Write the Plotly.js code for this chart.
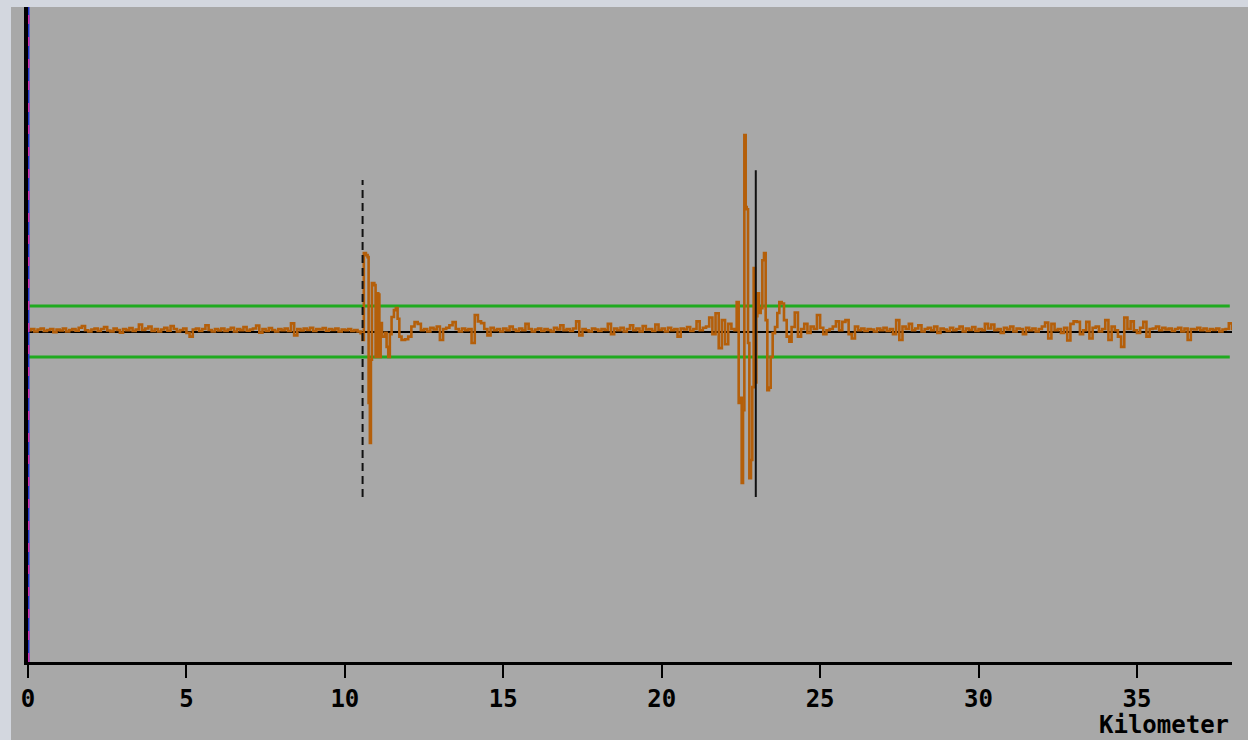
<!DOCTYPE html>
<html>
<head>
<meta charset="utf-8">
<script src="https://cdn.plot.ly/plotly-3.0.1.min.js"></script>
<style>html,body{margin:0;padding:0;background:#a8a8a8;}#chart{width:1248px;height:740px;}</style>
</head>
<body>
<div id="chart"></div>
<script>
// Sampling grid for the quiet parts of the trace (km)
const segAStart = 0.0, segBStart = 11.9, segCStart = 24.1, gridStep = 0.1;

// Quiet trace 0.0 .. 10.4 km
const segAAmp = [
  0.05,0.1,0.0,0.08,0.12,0.02,0.06,0.1,-0.02,0.08,
  0.04,0.12,0.0,0.06,0.1,0.03,0.15,0.22,0.05,0.0,
  0.08,0.12,0.02,0.1,0.18,0.04,0.0,0.12,0.06,-0.04,
  0.1,0.05,0.14,0.02,0.08,0.28,0.06,0.12,0.2,0.02,
  0.1,0.0,0.08,0.15,0.03,0.22,0.1,0.0,0.06,0.12,
  -0.05,-0.2,0.08,0.12,0.02,0.1,0.25,0.06,0.0,0.1,
  0.04,0.12,0.02,0.08,0.15,0.0,0.1,0.05,0.18,0.03,
  0.08,0.12,0.24,-0.04,0.1,0.02,0.14,0.06,0.0,0.1,
  0.05,0.12,0.02,0.32,-0.15,0.1,0.04,0.12,0.06,0.15,
  0.02,0.1,0.08,0.14,0.03,0.1,0.06,0.12,0.0,0.08,
  0.05,0.1,0.02,0.06,0.0
];

// First reflection near 10.5 km
const event1Km = [10.497,10.56,10.60,10.665,10.718,10.75,10.79,10.823,10.855,10.93,10.97,11.013,11.055,11.09,11.13,11.17,11.265,11.318,11.37,11.42,11.475,11.55,11.61,11.665,11.72,11.79];
const event1Amp = [-0.06,-0.33,3.08,3.0,2.92,-2.8,-4.37,-1.1,1.9,1.82,-1.0,1.5,1.45,-1.0,0.33,-0.2,-0.05,-0.6,-1.0,-0.1,0.57,0.84,0.92,0.5,-0.2,-0.33];

// Quiet trace 11.9 .. 22.3 km
const segBAmp = [
  -0.3,-0.2,0.2,0.37,0.3,0.05,0.1,0.0,0.15,0.08,0.2,
  -0.33,0.1,0.15,0.25,0.37,0.1,0.0,0.12,0.05,0.1,
  -0.45,0.65,0.4,0.33,0.1,-0.15,0.15,0.05,0.1,0.0,
  0.12,0.05,0.2,0.08,0.02,0.12,0.05,0.3,0.1,0.0,
  0.08,0.12,0.02,0.1,0.06,0.0,0.15,0.08,0.25,0.05,
  0.1,0.02,0.12,0.4,-0.15,0.1,0.05,0.0,0.12,0.08,
  0.02,0.1,0.06,0.3,-0.1,0.12,0.05,0.15,0.0,0.1,
  0.25,0.05,0.12,0.0,0.22,0.08,0.1,0.02,0.28,0.06,
  0.12,0.0,0.15,0.05,0.1,-0.2,0.12,0.08,0.18,0.02,
  0.1,0.4,0.05,0.15,0.2,0.55,-0.1,0.72,-0.65,0.45,
  -0.5,0.3,0.1,0.05
];

// Main reflection near 22.6 km
const event2Km = [22.367,22.43,22.483,22.525,22.567,22.609,22.651,22.683,22.725,22.767,22.819,22.861,22.903,22.946,22.988,23.019,23.072,23.124,23.177,23.23,23.282,23.335,23.387,23.44,23.503,23.577,23.65,23.713,23.787,23.86,23.945,24.03];
const event2Amp = [1.16,-2.8,-2.6,-5.94,-3.08,7.71,4.88,4.8,-0.45,-5.75,-5.04,-2.18,2.49,-2.0,0.6,1.5,0.73,0.92,2.8,3.08,0.45,-2.3,-2.2,-1.0,-0.06,0.18,0.73,1.16,1.1,0.45,-0.2,-0.4];

// Quiet trace 24.1 .. 38.0 km
const segCAmp = [
  0.18,0.75,-0.2,0.1,0.3,-0.05,0.2,0.1,0.65,0.15,-0.1,0.05,
  0.1,0.2,0.4,0.05,0.38,0.45,-0.1,-0.27,0.2,0.05,
  0.12,0.02,0.1,0.08,0.0,0.12,0.05,0.15,0.02,0.1,
  -0.1,0.45,-0.33,0.2,0.1,0.3,0.05,0.12,0.25,0.0,
  0.1,0.15,0.05,0.2,-0.05,0.12,0.08,0.02,0.15,0.05,
  0.1,0.2,0.0,0.12,0.06,0.18,0.02,0.1,0.05,0.3,
  0.12,0.28,0.05,0.1,-0.05,0.15,0.08,0.2,0.0,0.12,
  0.1,-0.1,0.15,0.05,0.12,0.0,0.1,0.2,0.35,-0.27,
  0.3,0.05,0.1,-0.05,0.15,-0.35,0.3,0.4,0.38,-0.1,
  0.05,0.38,-0.27,0.15,0.2,0.0,0.1,0.45,-0.33,0.2,
  0.05,-0.2,-0.6,0.55,0.1,0.4,0.05,-0.05,0.15,0.38,
  -0.2,0.1,0.12,0.2,0.05,0.15,0.08,0.12,0.02,0.1,
  0.15,0.0,0.12,-0.33,0.1,0.08,0.15,0.05,0.12,0.02,
  0.1,0.06,0.12,0.0,0.08,0.1,0.32,0.05
];

const tickKm = [0,5,10,15,20,25,30,35];
const tickText = ['0','5','10','15','20','25','30','35'];
const axisTitle = 'Kilometer';
const thresholdLevel = 1.0;
const marker1Km = 10.56, marker2Km = 22.97;

function grid(start, vals){ return vals.map((v,i)=>Math.round((start + i*gridStep)*1000)/1000); }

const km = [].concat(grid(segAStart, segAAmp), event1Km, grid(segBStart, segBAmp), event2Km, grid(segCStart, segCAmp));
const amp = [].concat(segAAmp, event1Amp, segBAmp, event2Amp, segCAmp);

const plotL = 28, plotR = 16, plotT = 7, plotB = 78, W = 1248, H = 740;
const pw = W - plotL - plotR, ph = H - plotT - plotB;
const px = p => (p - plotL) / pw;
const py = p => (H - plotB - p) / ph;

const trace = {
  x: km, y: amp, type: 'scatter', mode: 'lines',
  line: {color: '#b45f0a', width: 2.6, shape: 'hv'},
  hoverinfo: 'skip'
};

const layout = {
  width: W, height: H,
  margin: {l: plotL, r: plotR, t: plotT, b: plotB, pad: 0},
  paper_bgcolor: '#a8a8a8',
  plot_bgcolor: 'rgba(0,0,0,0)',
  showlegend: false,
  xaxis: {
    range: [0, 38], tickmode: 'array', tickvals: tickKm, ticktext: tickText,
    ticks: 'outside', ticklen: 13, tickwidth: 2, tickcolor: '#000',
    showline: true, linecolor: '#000', linewidth: 3,
    showgrid: false, zeroline: false, fixedrange: true,
    tickfont: {family: 'DejaVu Sans Mono', size: 24, color: '#000', weight: 'bold'}
  },
  yaxis: {
    range: [-12.96, 12.73], showline: true, linecolor: '#000', linewidth: 4,
    showticklabels: false, ticks: '', showgrid: false, zeroline: false, fixedrange: true
  },
  shapes: [
    {type:'line', xref:'x', yref:'y', x0:0, x1:37.93, y0:thresholdLevel, y1:thresholdLevel, line:{color:'#1faa1f', width:3}, layer:'below'},
    {type:'line', xref:'x', yref:'y', x0:0, x1:37.93, y0:-thresholdLevel, y1:-thresholdLevel, line:{color:'#1faa1f', width:3}, layer:'below'},
    {type:'line', xref:'x', yref:'y', x0:0, x1:38, y0:-0.02, y1:-0.02, line:{color:'#000', width:2}, layer:'below'},
    {type:'line', xref:'x', yref:'y', x0:marker1Km, x1:marker1Km, y0:-6.49, y1:5.94, line:{color:'#111', width:2, dash:'8px,5px'}},
    {type:'line', xref:'x', yref:'y', x0:marker2Km, x1:marker2Km, y0:-6.49, y1:6.33, line:{color:'#111', width:2}},
    {type:'line', xref:'x', yref:'paper', x0:0, x1:0, y0:0, y1:1, line:{color:'#2233cc', width:3}},
    {type:'line', xref:'x', yref:'paper', x0:0, x1:0, y0:0, y1:1, line:{color:'#d02fb0', width:3, dash:'9px,13px'}},
    {type:'rect', xref:'paper', yref:'paper', x0:px(0), x1:px(11), y0:py(740), y1:py(0), line:{width:0}, fillcolor:'#d3d7df'},
    {type:'rect', xref:'paper', yref:'paper', x0:px(0), x1:px(1248), y0:py(7), y1:py(0), line:{width:0}, fillcolor:'#d3d7df'}
  ],
  annotations: [
    {xref:'paper', yref:'paper', x: px(1231), y: py(725), xanchor:'right', yanchor:'middle', showarrow:false,
     text: axisTitle, font:{family:'DejaVu Sans Mono', size:24, color:'#000', weight:'bold'}}
  ]
};

Plotly.newPlot('chart', [trace], layout, {displayModeBar: false, staticPlot: true});
</script>
</body>
</html>
